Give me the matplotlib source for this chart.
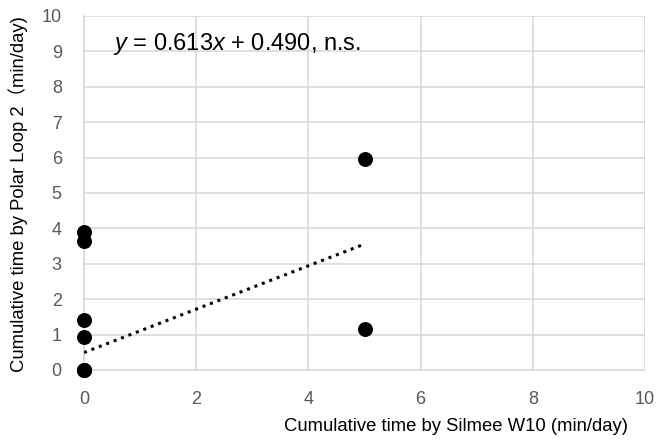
import matplotlib.pyplot as plt
import matplotlib as mpl

mpl.rcParams['font.family'] = ['Liberation Sans', 'Noto Sans CJK JP']
mpl.rcParams['mathtext.fontset'] = 'custom'
mpl.rcParams['mathtext.rm'] = 'Liberation Sans'
mpl.rcParams['mathtext.it'] = 'Liberation Sans:italic'

# Silmee W10 vs Polar Loop 2 (min/day)
silmee = [0, 0, 0, 0, 0, 0, 0, 5, 5]
polar = [3.9, 3.65, 1.4, 0.93, 0, 0, 0, 5.95, 1.15]
slope, intercept = 0.613, 0.490
fit_x = [0, 5]

fig = plt.figure(figsize=(6.72, 4.43), dpi=100)
ax = fig.add_axes([0.125, 0.165, 0.835, 0.799])

ax.scatter(silmee, polar, s=95, color='black', zorder=4, clip_on=False)
ax.plot(fit_x, [slope * v + intercept for v in fit_x], color='black',
        linestyle=(0, (1, 1.6)), linewidth=2.2, zorder=3)

ax.set_xlim(0, 10)
ax.set_ylim(0, 10)
ax.set_xticks(range(0, 11, 2))
ax.set_yticks(range(0, 11))
ax.grid(True, color='#d9d9d9', linewidth=1.2)
ax.set_axisbelow(True)
for side in ['top', 'right']:
    ax.spines[side].set_visible(False)
for side in ['left', 'bottom']:
    ax.spines[side].set_color('#d9d9d9')
    ax.spines[side].set_linewidth(1.2)
ax.tick_params(length=0, labelsize=13, labelcolor='#595959')
ax.tick_params(axis='x', pad=15)
ax.tick_params(axis='y', pad=16)

ax.set_xlabel('Cumulative time by Silmee W10 (min/day)', fontsize=13.3,
              loc='right')
ax.xaxis.set_label_coords(0.97, -0.135)
ax.set_ylabel('Cumulative time by Polar Loop 2（min/day)', fontsize=13.3,
              loc='top')
ax.yaxis.set_label_coords(-0.1, 1.0)

ax.text(0.52, 9.2, r'$\mathit{y}$ = 0.613$\mathit{x}$ + 0.490, n.s.',
        fontsize=17, color='black', va='center', ha='left')

plt.savefig('out.png', dpi=100)
plt.close()
